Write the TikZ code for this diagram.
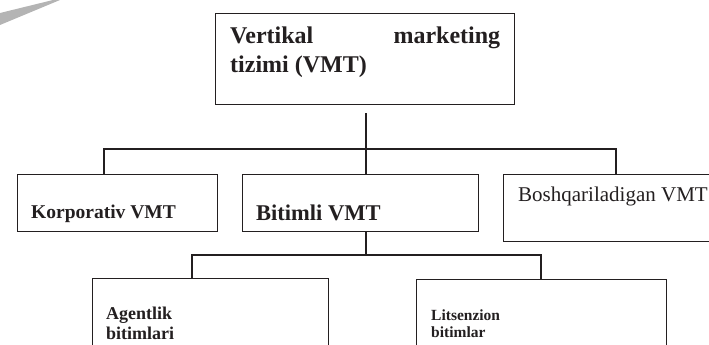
\documentclass[tikz,border=0pt]{standalone}
\usepackage{fontspec}
\setmainfont{Liberation Serif}
\definecolor{ink}{HTML}{231F20}
\definecolor{streak}{HTML}{B4B4B4}
\tikzset{
  box/.style={draw=ink, line width=1.1pt, fill=white, rectangle, inner sep=0pt, anchor=north west},
  conn/.style={draw=ink, line width=1.1pt},
  lbl/.style={text=ink, inner sep=0pt, anchor=base west},
}
\begin{document}
\begin{tikzpicture}[x=1pt,y=-1pt]
\useasboundingbox (0,0) rectangle (709,345);
\clip (0,0) rectangle (709,345);
\fill[streak] (0,13) -- (53,0) -- (60,0) -- (0,25) -- cycle;
% boxes
\node[box, minimum width=299pt, minimum height=91.5pt] (top) at (215,12.7) {};
\node[box, minimum width=200pt, minimum height=57pt] (kor) at (17,174) {};
\node[box, minimum width=236pt, minimum height=57pt] (bit) at (242,174) {};
\node[box, minimum width=215pt, minimum height=67pt] (bos) at (503,174) {};
\node[box, minimum width=236pt, minimum height=80pt] (age) at (92,278) {};
\node[box, minimum width=250pt, minimum height=80pt] (lit) at (416,279) {};
% texts
\node[lbl, font=\bfseries\fontsize{24}{28}\selectfont] (t1) at (230,44) {\makebox[270pt][s]{Vertikal marketing}};
\node[lbl, font=\bfseries\fontsize{24}{28}\selectfont] (t2) at (230,72) {tizimi (VMT)};
\node[lbl, font=\bfseries\fontsize{19.5}{22}\selectfont] (korT) at (31,218) {Korporativ VMT};
\node[lbl, font=\bfseries\fontsize{22.5}{26}\selectfont] (bitT) at (256,220) {Bitimli VMT};
\node[lbl, font=\fontsize{21}{24}\selectfont] (bosT) at (518,201) {Boshqariladigan VMT};
\node[lbl, font=\bfseries\fontsize{18}{20}\selectfont] (ageT1) at (106,319) {Agentlik};
\node[lbl, font=\bfseries\fontsize{18}{20}\selectfont] (ageT2) at (106,339) {bitimlari};
\node[lbl, font=\bfseries\fontsize{15.5}{17}\selectfont] (litT1) at (431,320) {Litsenzion};
\node[lbl, font=\bfseries\fontsize{15.5}{17}\selectfont] (litT2) at (431,337) {bitimlar};
% connectors
\coordinate (tb) at (366,113);
\coordinate (h1) at (104,149);
\coordinate (h2) at (616,149);
\coordinate (b0) at (366,255);
\coordinate (b1) at (192,255);
\coordinate (b2) at (541,255);
\draw[conn] (tb) -- (tb |- bit.north);
\draw[conn] (h1 |- kor.north) -- (h1) -- (h2) -- (h2 |- bos.north);
\draw[conn] (b0 |- bit.south) -- (b0);
\draw[conn] (b1 |- age.north) -- (b1) -- (b2) -- (b2 |- lit.north);
\end{tikzpicture}
\end{document}
